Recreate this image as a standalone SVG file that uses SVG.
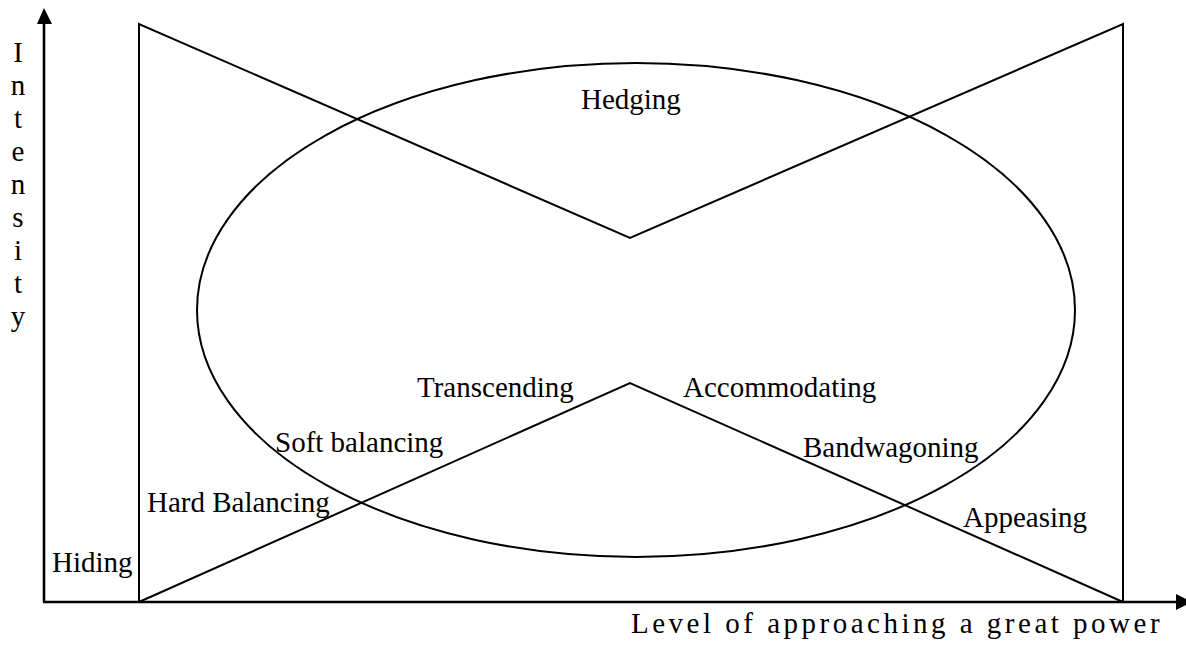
<svg xmlns="http://www.w3.org/2000/svg" width="1186" height="645" viewBox="0 0 1186 645">
<style>
.t{font-family:"Liberation Serif","Times New Roman",serif;font-size:29px;fill:#000}
.ax{stroke:#000;stroke-width:2.6;fill:none}
.ln{stroke:#000;stroke-width:2;fill:none}
</style>
<rect width="1186" height="645" fill="#fff"/>
<g id="connectors">
<line class="ax" x1="44" y1="602" x2="44" y2="22"/>
<polygon points="44,8 37,24 52,24" fill="#000"/>
<line class="ax" x1="43" y1="602" x2="1178" y2="602"/>
<polygon points="1192,602 1176,594 1176,610" fill="#000"/>
<polyline class="ln" points="139,602 139,24 630,238 1123,24 1123,602"/>
<polyline class="ln" points="139,602 630,383 1123,602"/>
</g>
<g id="hedging">
<ellipse class="ln" cx="636" cy="310" rx="439" ry="247"/>
<text class="t" x="581" y="109">Hedging</text>
</g>
<g id="transcending"><text class="t" x="417" y="397">Transcending</text></g>
<g id="accommodating"><text class="t" x="683" y="397">Accommodating</text></g>
<g id="soft-balancing"><text class="t" x="275" y="452">Soft balancing</text></g>
<g id="bandwagoning"><text class="t" x="803" y="457">Bandwagoning</text></g>
<g id="hard-balancing"><text class="t" x="147" y="512">Hard Balancing</text></g>
<g id="appeasing"><text class="t" x="963" y="527">Appeasing</text></g>
<g id="hiding"><text class="t" x="52" y="572">Hiding</text></g>
<g id="y-label" text-anchor="middle">
<text class="t" x="18" y="62">I</text>
<text class="t" x="18" y="95">n</text>
<text class="t" x="18" y="128">t</text>
<text class="t" x="18" y="161">e</text>
<text class="t" x="18" y="194">n</text>
<text class="t" x="18" y="227">s</text>
<text class="t" x="18" y="260">i</text>
<text class="t" x="18" y="293">t</text>
<text class="t" x="18" y="326">y</text>
</g>
<g id="x-label"><text class="t" x="631" y="633" style="letter-spacing:3.5px">Level of approaching a great power</text></g>
</svg>
